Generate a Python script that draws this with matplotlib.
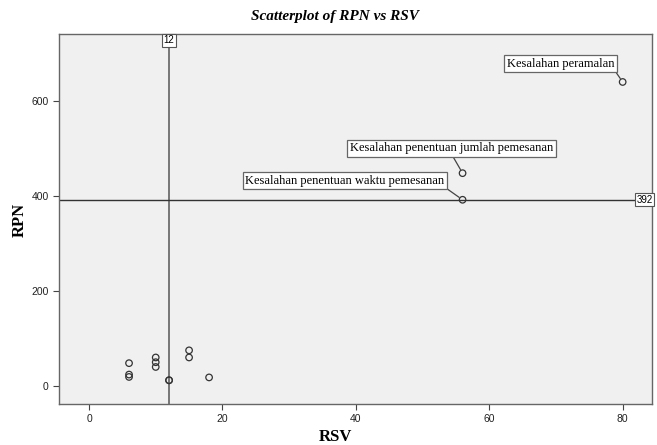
import matplotlib.pyplot as plt

# data
rsv = [6, 6, 6, 10, 10, 10, 12, 12, 15, 15, 18, 56, 56, 80]
rpn = [48, 24, 19, 60, 50, 40, 12, 12, 75, 60, 18, 448, 392, 640]

labels = {
    13: ('Kesalahan peramalan', (-62, 18), (1, 0)),
    11: ('Kesalahan penentuan jumlah pemesanan', (-11, 25), (0.5, 0)),
    12: ('Kesalahan penentuan waktu pemesanan', (-118, 19), (1, 0)),
}

ref_x = 12
ref_y = 392

xticks = [0, 20, 40, 60, 80]
yticks = [0, 200, 400, 600]

fig = plt.figure(figsize=(6.57, 4.45), dpi=100)
ax = fig.add_axes([0.0898, 0.0921, 0.9026, 0.8315])
ax.set_facecolor('#F0F0F0')

ax.scatter(rsv, rpn, s=22, facecolors='none', edgecolors='#333333', linewidths=0.9, zorder=3)

ax.axvline(ref_x, color='#555555', lw=1.1, zorder=2)
ax.axhline(ref_y, color='#333333', lw=1.0, zorder=2)

box = dict(boxstyle='square,pad=0.15', fc='white', ec='#555555', lw=0.8)
ax.text(ref_x, 728, str(ref_x), ha='center', va='center', fontsize=7,
        family='Liberation Sans', bbox=box, zorder=4)
ax.text(83.3, ref_y, str(ref_y), ha='center', va='center', fontsize=7,
        family='Liberation Sans', bbox=box, zorder=4)

for i, (txt, off, rel) in labels.items():
    ax.annotate(txt, (rsv[i], rpn[i]), xytext=off, textcoords='offset pixels',
                ha='center', va='center', fontsize=9, family='Liberation Serif',
                bbox=dict(boxstyle='square,pad=0.2', fc='white', ec='#666666', lw=0.9),
                arrowprops=dict(arrowstyle='-', color='#444444', lw=0.9, relpos=rel,
                                shrinkA=0, shrinkB=3),
                zorder=5)

ax.set_xlim(-4.5, 84.4)
ax.set_ylim(-38, 741)
ax.set_xticks(xticks)
ax.set_yticks(yticks)
ax.tick_params(labelsize=7.5, length=4, color='#444444', labelcolor='#222222')
for lbl in ax.get_xticklabels() + ax.get_yticklabels():
    lbl.set_family('Liberation Sans')
for s in ax.spines.values():
    s.set_color('#666666')
    s.set_linewidth(1.0)

fig.text(0.51, 0.963, 'Scatterplot of RPN vs RSV', ha='center', va='center',
         fontsize=11, fontweight='bold', style='italic', family='Liberation Serif')
fig.text(0.51, 0.018, 'RSV', ha='center', va='center', fontsize=12,
         fontweight='bold', family='Liberation Serif')
fig.text(0.03, 0.505, 'RPN', ha='center', va='center', rotation=90, fontsize=12,
         fontweight='bold', family='Liberation Serif')

fig.savefig('out.png', dpi=100)
